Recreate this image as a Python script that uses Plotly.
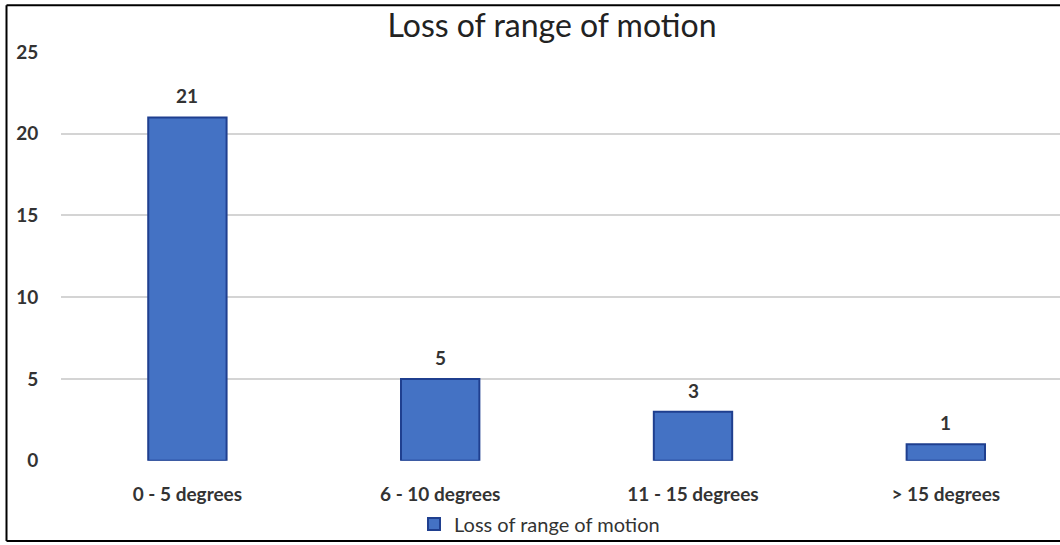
import plotly.graph_objects as go

categories = ["0 - 5 degrees", "6 - 10 degrees", "11 - 15 degrees", "> 15 degrees"]
values = [21, 5, 3, 1]
series_name = "Loss of range of motion"
title_text = "Loss of range of motion"
y_ticks = [0, 5, 10, 15, 20, 25]

W, H = 1060, 545
L, R, T, B = 61, 0, 52, 83
pw, ph = W - L - R, H - T - B
cat_px = 252.8
x_max = -0.5 + pw / cat_px

fig = go.Figure()
fig.add_trace(go.Bar(
    x=list(range(len(categories))), y=values, name=series_name,
    width=0.31,
    marker=dict(color="#4472C4", line=dict(color="#1F3F8F", width=2)),
    showlegend=True,
))

for i, v in enumerate(values):
    fig.add_annotation(x=i, y=v, text=str(v), showarrow=False, yanchor="bottom",
                       yshift=8, font=dict(family="Lato", size=19, color="#333333", weight="bold"))

def px_x(p):
    return (p - L) / pw

def px_y(p):
    return 1 - (p - T) / ph

border = dict(color="black", width=2)
x_left, x_right = px_x(6.5), px_x(1200)
y_top, y_bot = px_y(5), px_y(542.5)
for (x0, y0, x1, y1) in [(x_left, y_top, x_right, y_top),
                         (x_left, y_bot, x_right, y_bot),
                         (x_left, y_bot, x_left, y_top)]:
    fig.add_shape(type="line", xref="paper", yref="paper", x0=x0, y0=y0, x1=x1, y1=y1,
                  line=border, layer="above")

fig.update_layout(
    width=W, height=H,
    margin=dict(l=L, r=R, t=T, b=B),
    paper_bgcolor="white", plot_bgcolor="white",
    title=dict(text=title_text, x=552 / W, xanchor="center", xref="container",
               y=1 - 26 / H, yanchor="middle", yref="container",
               font=dict(family="Lato", size=32, color="#222222")),
    xaxis=dict(range=[-0.5, x_max], tickmode="array", tickvals=list(range(len(categories))),
               ticktext=categories, showgrid=False, zeroline=False, showline=False,
               ticks="outside", ticklen=16, tickcolor="rgba(0,0,0,0)",
               tickfont=dict(family="Lato", size=19, color="#333333", weight="bold")),
    yaxis=dict(range=[0, 25], tickmode="array", tickvals=y_ticks, showgrid=True,
               gridcolor="#D4D4D4", gridwidth=2, zeroline=False, showline=False,
               ticks="outside", ticklen=18, tickcolor="rgba(0,0,0,0)",
               tickfont=dict(family="Lato", size=19, color="#333333", weight="bold")),
    showlegend=True,
    legend=dict(orientation="h", xref="container", yref="container",
                x=414 / W, xanchor="left", y=1 - 524 / H, yanchor="middle",
                font=dict(family="Lato", size=20, color="#333333"),
                bgcolor="rgba(0,0,0,0)"),
)

fig.write_html("out.html")
